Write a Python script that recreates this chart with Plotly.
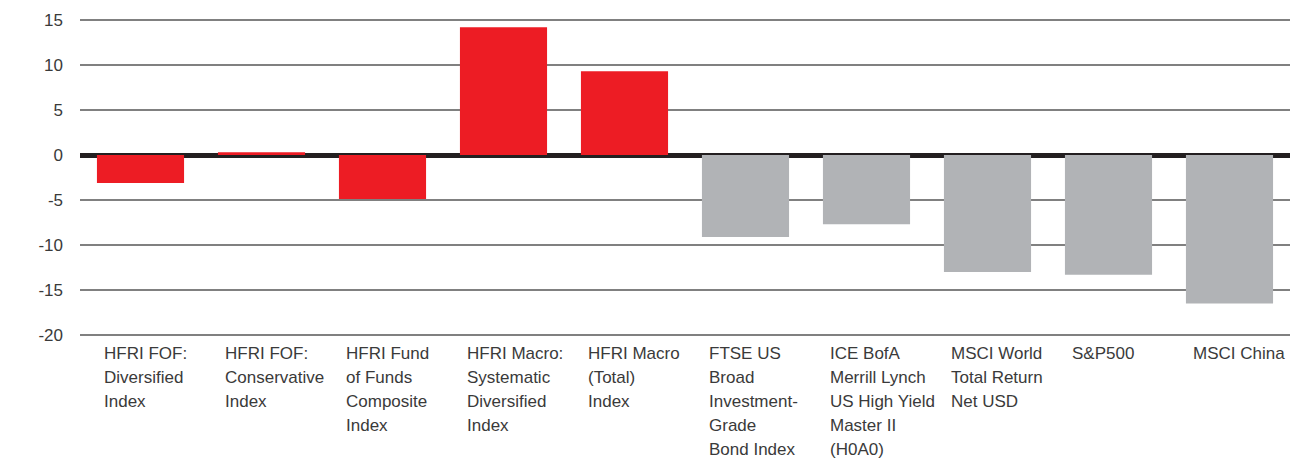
import plotly.graph_objects as go

categories = [
    "HFRI FOF:<br>Diversified<br>Index",
    "HFRI FOF:<br>Conservative<br>Index",
    "HFRI Fund<br>of Funds<br>Composite<br>Index",
    "HFRI Macro:<br>Systematic<br>Diversified<br>Index",
    "HFRI Macro<br>(Total)<br>Index",
    "FTSE US<br>Broad<br>Investment-<br>Grade<br>Bond Index",
    "ICE BofA<br>Merrill Lynch<br>US High Yield<br>Master II<br>(H0A0)",
    "MSCI World<br>Total Return<br>Net USD",
    "S&P500",
    "MSCI China",
]
values = [-3.1, 0.3, -4.9, 14.2, 9.3, -9.1, -7.7, -13.0, -13.3, -16.5]
groups = ["hf", "hf", "hf", "hf", "hf", "mk", "mk", "mk", "mk", "mk"]
y_ticks = [-20, -15, -10, -5, 0, 5, 10, 15]

RED = "#ED1C24"
GRAY = "#B1B3B6"
FONT = "Liberation Sans, Arial, sans-serif"
TXT = "#3a3a3a"
FS = 17

xs = list(range(len(categories)))
colors = [RED if g == "hf" else GRAY for g in groups]

fig = go.Figure()
fig.add_trace(go.Bar(
    x=xs, y=values, marker=dict(color=colors, line=dict(width=0)),
    width=0.72, hoverinfo="skip",
))

bar_w = 0.72
for i, lab in enumerate(categories):
    for k, line in enumerate(lab.split("<br>")):
        fig.add_annotation(
            x=i - bar_w / 2 + 0.045, xref="x", xanchor="left",
            y=0, yref="paper", yanchor="top", yshift=-5 - 24 * k,
            text=line, align="left", showarrow=False,
            font=dict(family=FONT, size=FS, color=TXT),
        )

fig.update_layout(
    width=1312, height=460,
    margin=dict(l=80, r=22, t=18, b=123, autoexpand=False),
    plot_bgcolor="white", paper_bgcolor="white",
    showlegend=False,
    font=dict(family=FONT, size=FS, color=TXT),
)
fig.update_xaxes(
    range=[-0.5, len(categories) - 0.5],
    showticklabels=False, showgrid=False, zeroline=False,
    showline=False, ticks="", automargin=False,
)
fig.update_yaxes(
    range=[-20.22, 15.22],
    tickvals=y_ticks, ticktext=[str(v) for v in y_ticks],
    showgrid=True, gridcolor="#808080", gridwidth=1.5,
    zeroline=True, zerolinecolor="#231F20", zerolinewidth=5,
    showline=False, ticks="", automargin=False,
    ticklabelstandoff=16,
    tickfont=dict(family=FONT, size=FS, color=TXT),
)

fig.write_html(
    "out.html",
    config={"displayModeBar": False, "staticPlot": True},
    post_script="document.body.style.margin='0';document.body.style.overflow='hidden';",
)
